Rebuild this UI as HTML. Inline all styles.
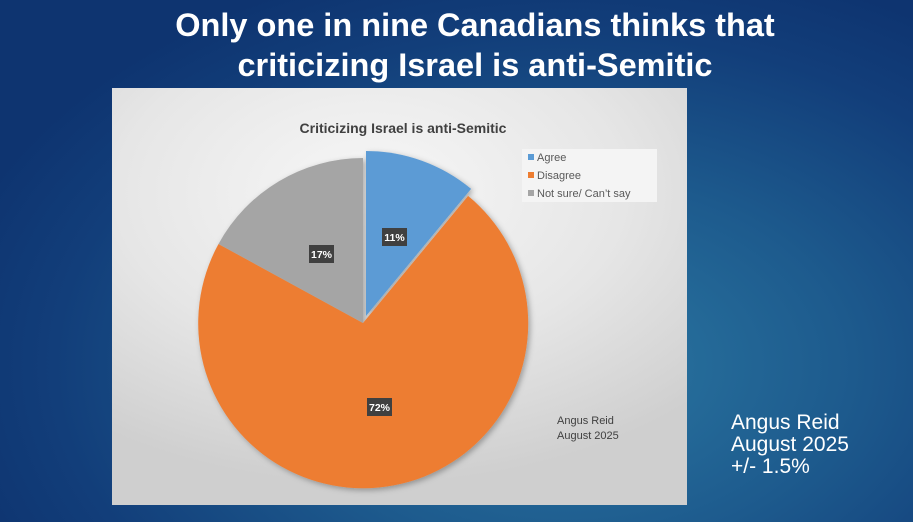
<!DOCTYPE html>
<html><head><style>
body{margin:0;width:913px;height:522px;overflow:hidden;font-family:"Liberation Sans",sans-serif;
background:radial-gradient(ellipse 70% 80% at 62% 70%,#2b78a2 0%,#1d5a8d 45%,#123e7a 80%,#0e3470 100%);position:relative}
.t{position:absolute;left:0;width:950px;text-align:center;color:#fff;font-weight:bold;font-size:32.5px;line-height:40px;top:5px}
.panel{position:absolute;left:112px;top:88px;width:575px;height:417px;background:radial-gradient(ellipse 80% 70% at 45% 25%,#f7f7f7 0%,#e6e6e6 55%,#cfcfcf 100%)}
.r{position:absolute;left:731px;top:412px;color:#fff;font-size:21px;line-height:22px}
</style></head><body>
<div class="t">Only one in nine Canadians thinks that<br>criticizing Israel is anti-Semitic</div>
<div class="panel"></div>
<svg width="913" height="522" style="position:absolute;left:0;top:0">
<defs><filter id="s"><feDropShadow dx="2" dy="2" stdDeviation="3" flood-opacity="0.3"/></filter></defs>
<text x="403" y="133" text-anchor="middle" font-size="14" font-weight="bold" fill="#404040">Criticizing Israel is anti-Semitic</text>
<g filter="url(#s)">
<path d="M363,323 L468.1,195.9 A165,165 0 1 1 218.5,244 Z" fill="#ed7d31"/>
<path d="M363,323 L218.5,244 A165,165 0 0 1 363,158 Z" fill="#a5a5a5"/>
<path d="M366,316 L366,151 A165,165 0 0 1 471.1,188.9 Z" fill="#5b9bd5"/>
</g>
<rect x="522" y="149" width="135" height="53" fill="#f4f4f4"/>
<g font-size="11" fill="#595959">
<rect x="528" y="154" width="6" height="6" fill="#5b9bd5"/><text x="537" y="161">Agree</text>
<rect x="528" y="172" width="6" height="6" fill="#ed7d31"/><text x="537" y="179">Disagree</text>
<rect x="528" y="190" width="6" height="6" fill="#a5a5a5"/><text x="537" y="197">Not sure/ Can’t say</text>
</g>
<g font-size="10.5" font-weight="bold" fill="#fff">
<rect x="382" y="228" width="25" height="18" fill="#404040"/><text x="394.5" y="241" text-anchor="middle">11%</text>
<rect x="309" y="245" width="25" height="18" fill="#404040"/><text x="321.5" y="258" text-anchor="middle">17%</text>
<rect x="367" y="398" width="25" height="18" fill="#404040"/><text x="379.5" y="411" text-anchor="middle">72%</text>
</g>
<g font-size="11" fill="#404040"><text x="557" y="424">Angus Reid</text><text x="557" y="439">August 2025</text></g>
</svg>
<div class="r">Angus Reid<br>August 2025<br>+/- 1.5%</div>
</body></html>
